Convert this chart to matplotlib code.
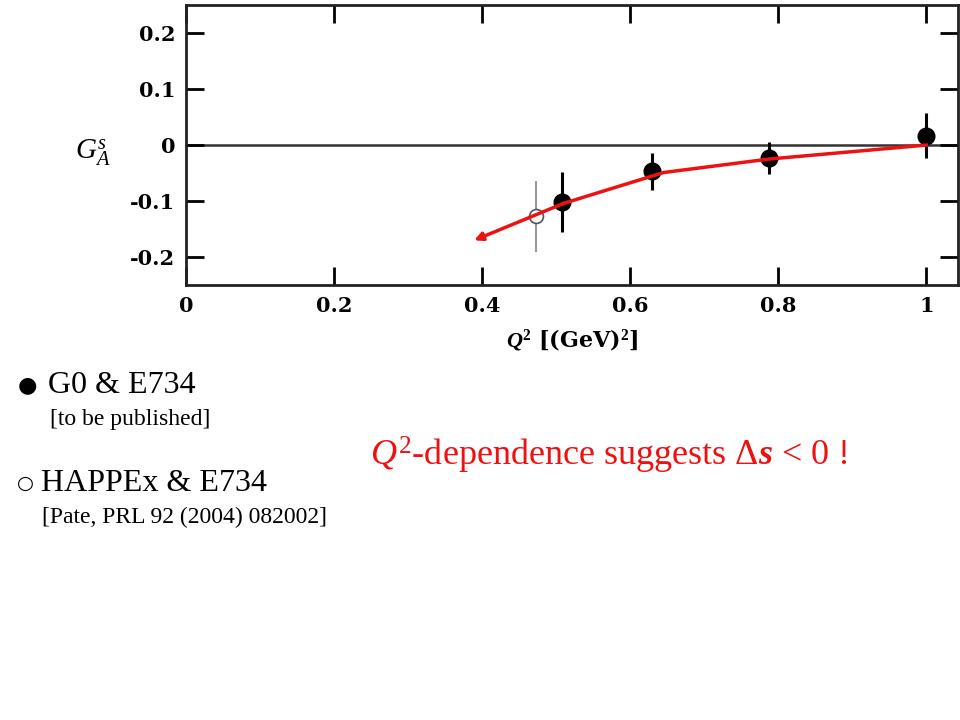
import matplotlib.pyplot as plt

plt.rcParams['mathtext.fontset'] = 'custom'
plt.rcParams['mathtext.rm'] = 'Liberation Serif'
plt.rcParams['mathtext.it'] = 'Liberation Serif:italic'
plt.rcParams['mathtext.bf'] = 'Liberation Serif:bold'
plt.rcParams['mathtext.bfit'] = 'Liberation Serif:bold:italic'

# G0 & E734 (filled)
q2_g0 = [0.508, 0.63, 0.787, 1.0]
ga_g0 = [-0.102, -0.047, -0.023, 0.017]
err_g0 = [0.054, 0.033, 0.029, 0.040]

# HAPPEx & E734 (open)
q2_hap = [0.473]
ga_hap = [-0.127]
err_hap = [0.063]

# red trend line (drawn from Q2=1 back towards low Q2)
trend_x = [1.0, 0.787, 0.645, 0.51, 0.389]
trend_y = [0.0, -0.025, -0.049, -0.104, -0.170]

xticks = [0, 0.2, 0.4, 0.6, 0.8, 1.0]
xticklabels = ['0', '0.2', '0.4', '0.6', '0.8', '1']
yticks = [-0.2, -0.1, 0, 0.1, 0.2]
yticklabels = ['-0.2', '-0.1', '0', '0.1', '0.2']

fig = plt.figure(figsize=(9.6, 7.2), dpi=100)
ax = fig.add_axes([0.194, 0.604, 0.804, 0.389])

ax.axhline(0, color='#333333', lw=1.8, zorder=1)

ax.errorbar(q2_hap, ga_hap, yerr=err_hap, fmt='o', mfc='white', mec='#555555',
            ecolor='#999999', ms=10, mew=1.2, elinewidth=1.5, capsize=0, zorder=3)
ax.errorbar(q2_g0, ga_g0, yerr=err_g0, fmt='o', color='black', ms=12,
            elinewidth=2.2, capsize=0, zorder=4)

ax.plot(trend_x[:-1], trend_y[:-1], color='#ee1111', lw=2.5, zorder=5)
ax.annotate('', xy=(trend_x[-1], trend_y[-1]), xytext=(trend_x[-2], trend_y[-2]),
            arrowprops=dict(arrowstyle='-|>', color='#ee1111', lw=2.5,
                            mutation_scale=12, shrinkA=0, shrinkB=0), zorder=5)

ax.set_xlim(0, 1.043)
ax.set_ylim(-0.25, 0.25)
ax.set_xticks(xticks)
ax.set_xticklabels(xticklabels)
ax.set_yticks(yticks)
ax.set_yticklabels(yticklabels)
ax.tick_params(direction='in', length=13, width=2, top=True, right=True,
               labelsize=15, pad=8)
for lab in ax.get_xticklabels() + ax.get_yticklabels():
    lab.set_family('DejaVu Serif')
    lab.set_weight('bold')
for sp in ax.spines.values():
    sp.set_linewidth(2)
    sp.set_color('#222222')

ax.set_xlabel(r'$\mathbfit{Q}^\mathbf{2}$ [(GeV)$^\mathbf{2}$]', fontsize=16,
              fontweight='bold', family='DejaVu Serif', labelpad=8)
fig.text(0.097, 0.787, r'$G_A^s$', fontsize=21, ha='center', va='center')

# notes below the plot
fig.text(0.018, 0.465, '\u25cf', fontsize=16, va='center', family='DejaVu Sans')
fig.text(0.05, 0.465, 'G0 & E734', fontsize=23, va='center', family='Liberation Serif')
fig.text(0.052, 0.417, '[to be published]', fontsize=17, va='center', family='Liberation Serif')
fig.text(0.018, 0.329, '\u25cb', fontsize=14, va='center', family='DejaVu Sans')
fig.text(0.043, 0.329, 'HAPPEx & E734', fontsize=23, va='center', family='Liberation Serif')
fig.text(0.044, 0.282, '[Pate, PRL 92 (2004) 082002]', fontsize=17, va='center',
         family='Liberation Serif')
fig.text(0.385, 0.368, r'$Q^2$-dependence suggests $\Delta\mathbfit{s}$ < 0 !', fontsize=26,
         va='center', color='#ee1111', family='Liberation Serif')

fig.savefig('out.png', dpi=100)
